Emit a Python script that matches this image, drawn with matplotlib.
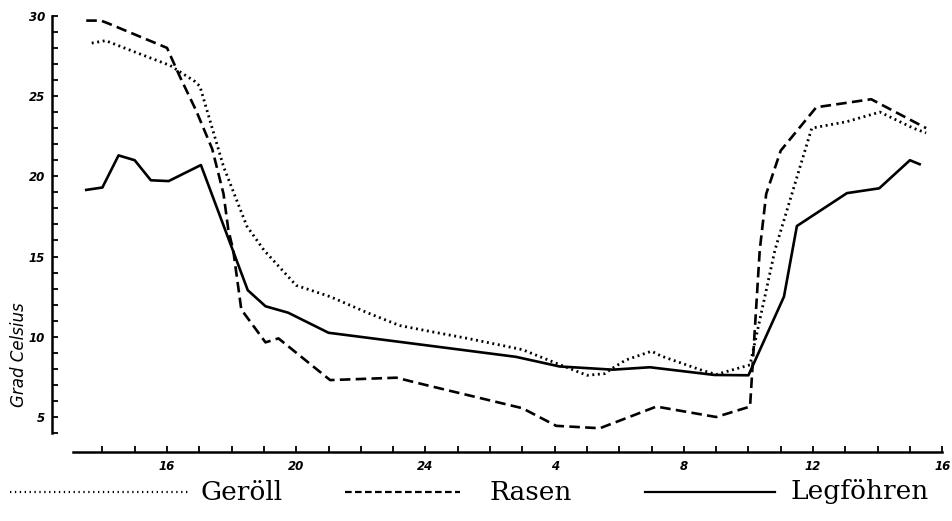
import matplotlib.pyplot as plt
from matplotlib.lines import Line2D

# hours counted from midnight of day 1 (24 -> midnight, 28 -> 4 h next day)
geroell_t = [13.67, 14.1, 15.06, 16.1, 16.87, 17.02, 17.75, 18.47, 19.0, 20.0,
             21.05, 22.2, 23.2, 24.1, 25.3, 27.0, 28.05, 29.0, 29.55, 29.8,
             30.2, 31.0, 31.3, 32.5, 33.0, 34.05, 34.82, 35.96, 37.04, 38.07,
             39.1, 39.5]
geroell_v = [28.3, 28.45, 27.7, 26.9, 25.9, 25.6, 20.6, 16.9, 15.4, 13.2,
             12.5, 11.5, 10.7, 10.35, 9.9, 9.2, 8.35, 7.6, 7.7, 8.05,
             8.55, 9.1, 8.8, 7.95, 7.65, 8.25, 15.4, 23.0, 23.4, 24.0,
             23.0, 22.7]

rasen_t = [13.5, 13.95, 14.15, 16.0, 16.4, 16.9, 17.4, 17.75, 17.9, 18.05,
           18.3, 19.05, 19.45, 21.05, 23.1, 24.0, 27.0, 28.05, 29.4, 31.15,
           33.0, 34.05, 34.35, 34.55, 35.0, 36.1, 37.8, 39.5]
rasen_v = [29.7, 29.7, 29.55, 28.0, 26.2, 24.1, 21.7, 18.9, 16.65, 15.4,
           11.7, 9.65, 9.9, 7.3, 7.45, 7.0, 5.55, 4.45, 4.3, 5.65,
           5.0, 5.65, 15.4, 18.9, 21.6, 24.3, 24.8, 23.0]

legf_t = [13.5, 14.0, 14.5, 15.0, 15.5, 16.05, 17.05, 18.5, 19.05, 19.75,
          21.0, 24.1, 26.8, 28.15, 29.8, 30.95, 32.95, 34.0, 35.1, 35.5,
          37.05, 38.05, 39.0, 39.3]
legf_v = [19.15, 19.3, 21.3, 21.0, 19.75, 19.7, 20.7, 12.9, 11.9, 11.5,
          10.25, 9.45, 8.75, 8.15, 7.95, 8.1, 7.62, 7.6, 12.5, 16.9,
          18.95, 19.25, 21.0, 20.75]

names = ['Geröll', 'Rasen', 'Legföhren']
xtick_pos = [16, 20, 24, 28, 32, 36, 40]
xtick_lab = ['16', '20', '24', '4', '8', '12', '16']
ytick_pos = [5, 10, 15, 20, 25, 30]

W, H = 952, 521
fig = plt.figure(figsize=(W / 100, H / 100), dpi=100)
ax = fig.add_axes([52 / W, 69 / H, 898 / W, 442 / H])

dotted = (0, (0.7, 1.3))
dashed = (0, (4, 2))
ax.plot(geroell_t, geroell_v, color='black', lw=2.0, linestyle=dotted)
ax.plot(rasen_t, rasen_v, color='black', lw=1.9, linestyle=dashed)
ax.plot(legf_t, legf_v, color='black', lw=1.9, linestyle='-')

ax.set_xlim(12.44, 40.24)
ax.set_ylim(2.82, 30.36)

for s in ['top', 'right']:
    ax.spines[s].set_visible(False)
ax.spines['left'].set_bounds(4, 30)
ax.spines['bottom'].set_bounds(13.1, 40)
ax.spines['left'].set_linewidth(1.8)
ax.spines['bottom'].set_linewidth(1.8)

ax.set_xticks(range(14, 41))
ax.set_xticklabels([xtick_lab[xtick_pos.index(h)] if h in xtick_pos else ''
                    for h in range(14, 41)])
ax.set_yticks(range(4, 31))
ax.set_yticklabels([str(v) if v in ytick_pos else '' for v in range(4, 31)])
ax.tick_params(axis='both', direction='in', length=4, width=1.3,
               labelsize=8.5)
for lab in ax.get_xticklabels() + ax.get_yticklabels():
    lab.set_fontweight('bold')
    lab.set_fontstyle('italic')
ax.tick_params(axis='x', pad=6)
ax.tick_params(axis='y', pad=5)

ax.set_ylabel('Grad Celsius', fontsize=12, fontstyle='italic')
ax.yaxis.set_label_coords((28 - 52) / 898, (452 - 355) / 442)

# legend row drawn under the axes
leg_y = 1 - 492 / H
leg_styles = [(0, (0.6, 1.6)), (0, (3, 1.5)), '-']
leg_lines = [(10, 190), (345, 460), (645, 775)]
leg_text_x = [200, 490, 790]
for st, (x0, x1), tx, name in zip(leg_styles, leg_lines, leg_text_x, names):
    fig.add_artist(Line2D([x0 / W, x1 / W], [leg_y, leg_y], color='black',
                          lw=1.6, linestyle=st, transform=fig.transFigure))
    fig.text(tx / W, leg_y, name, ha='left', va='center',
             family='DejaVu Serif', fontsize=19)

fig.savefig('out.png', dpi=100)
